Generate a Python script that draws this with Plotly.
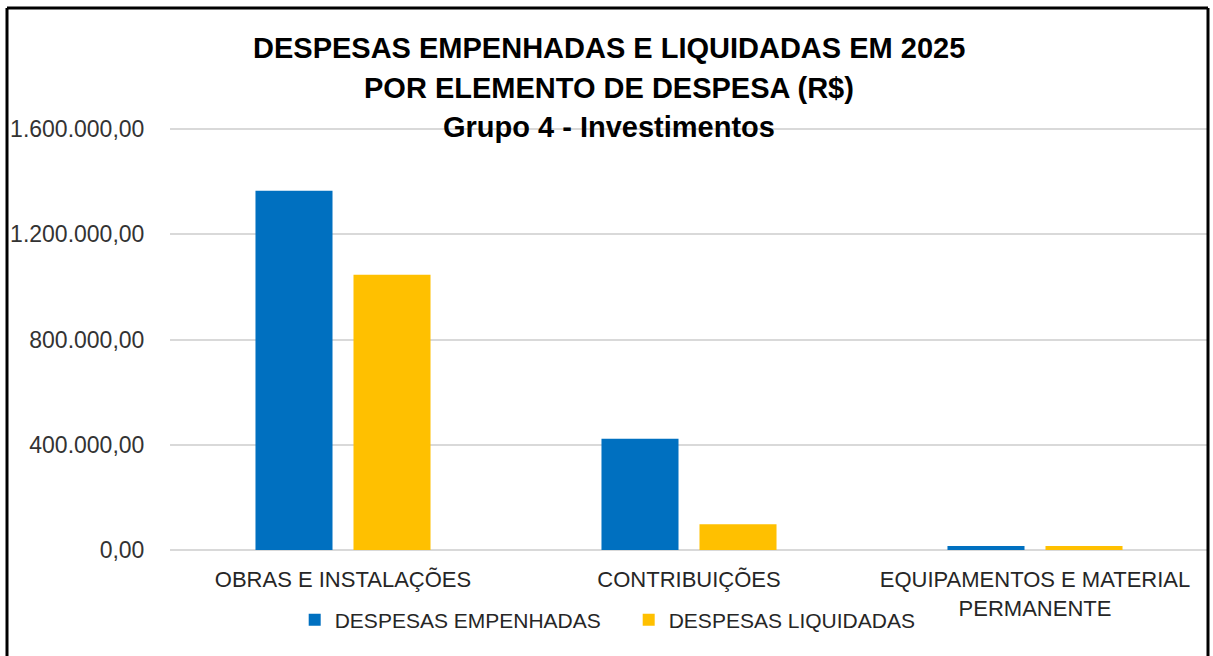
import plotly.graph_objects as go

categories = ["OBRAS E INSTALAÇÕES", "CONTRIBUIÇÕES", "EQUIPAMENTOS E MATERIAL<br>PERMANENTE"]
empenhadas = [1365500, 423400, 15500]
liquidadas = [1046000, 97800, 14800]
tick_vals = [0, 400000, 800000, 1200000, 1600000]
tick_text = ["0,00", "400.000,00", "800.000,00", "1.200.000,00", "1.600.000,00"]

fig = go.Figure()
fig.add_trace(go.Bar(x=categories, y=empenhadas, name="DESPESAS EMPENHADAS",
                     marker=dict(color="#0070C0", line=dict(width=0))))
fig.add_trace(go.Bar(x=categories, y=liquidadas, name="DESPESAS LIQUIDADAS",
                     marker=dict(color="#FFC000", line=dict(width=0))))

W, H = 1213, 656
ymax = 1650000
L, R, B = 170, 5, 106
zero_px = H - B
T = int(round(zero_px - 421.0 * ymax / 1600000))

fig.update_layout(
    width=W, height=H,
    margin=dict(l=L, r=R, t=T, b=B, pad=0, autoexpand=False),
    paper_bgcolor="white", plot_bgcolor="white",
    barmode="group", bargap=0.4335, bargroupgap=0.214,
    font=dict(family="Liberation Sans, Arial, sans-serif", color="#262626"),
    showlegend=True,
    legend=dict(orientation="h", xref="container", x=0.5183, xanchor="center",
                yref="container", y=(H - 620) / H, yanchor="middle",
                font=dict(size=21, color="#262626"), traceorder="normal",
                entrywidth=289, entrywidthmode="pixels",
                bgcolor="rgba(0,0,0,0)"),
    xaxis=dict(showline=False, tickfont=dict(size=22, color="#262626"),
               showgrid=False, zeroline=False, automargin=False,
               ticks="outside", ticklen=10, tickcolor="rgba(0,0,0,0)"),
    yaxis=dict(range=[0, ymax], tickvals=tick_vals, ticktext=tick_text,
               tickfont=dict(size=23, color="#333333"),
               showgrid=True, gridcolor="#D9D9D9", gridwidth=1.5,
               zeroline=True, zerolinecolor="#D9D9D9", zerolinewidth=1.5,
               showline=False, automargin=False,
               ticks="outside", ticklen=20, tickcolor="rgba(0,0,0,0)"),
)

# title lines
titles = [("DESPESAS EMPENHADAS E LIQUIDADAS EM 2025", 48),
          ("POR ELEMENTO DE DESPESA (R$)", 88),
          ("Grupo 4 - Investimentos", 127)]
pw, ph = W - L - R, H - T - B
for txt, ypx in titles:
    fig.add_annotation(text="<b>%s</b>" % txt, xref="paper", yref="paper",
                       x=(608.5 - L) / pw, y=1 + (T - ypx) / ph,
                       xanchor="center", yanchor="middle", showarrow=False,
                       font=dict(size=29, color="#000000",
                                 family="Liberation Sans, Arial, sans-serif"))

# outer frame (left, top, right)
x0 = (7 - L) / pw
x1 = (1208 - L) / pw
y1 = 1 + (T - 8) / ph
y0 = -0.4
for (xa, ya, xb, yb) in [(x0, y0, x0, y1), (x0, y1, x1, y1), (x1, y1, x1, y0)]:
    fig.add_shape(type="line", xref="paper", yref="paper", x0=xa, y0=ya, x1=xb, y1=yb,
                  line=dict(color="black", width=3), layer="above")

fig.write_html("out.html", config={"displayModeBar": False},
               post_script="document.body.style.margin='0';")
